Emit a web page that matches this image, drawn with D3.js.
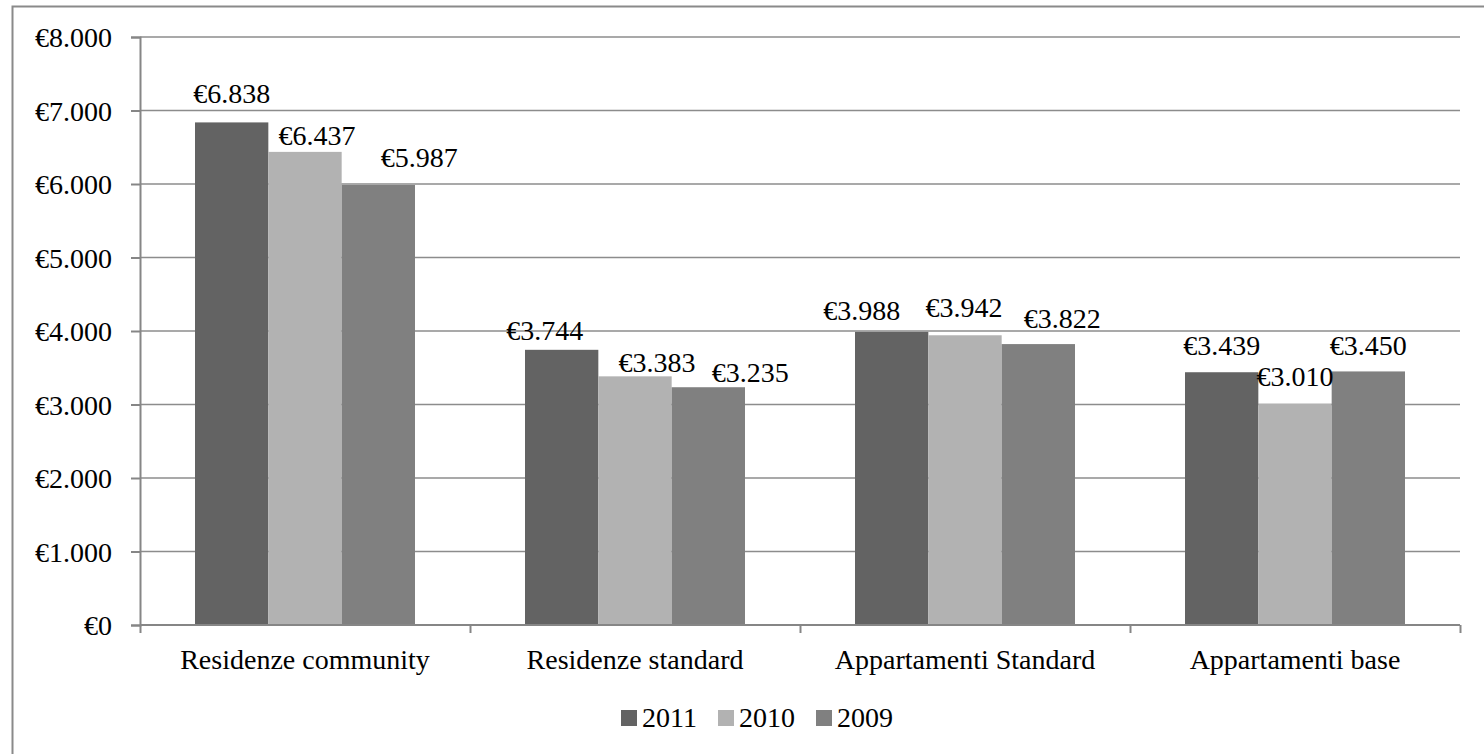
<!DOCTYPE html>
<html>
<head>
<meta charset="utf-8">
<script src="https://cdn.jsdelivr.net/npm/d3@7"></script>
<style>
  html, body { margin: 0; padding: 0; background: #fff; }
  svg { display: block; font-family: "Liberation Serif", "Times New Roman", serif; }
</style>
</head>
<body>
<svg id="chart" width="1484" height="754"></svg>
<script>
// Costo medio annuo per tipologia di alloggio
const categories = ["Residenze community", "Residenze standard", "Appartamenti Standard", "Appartamenti base"];
const seriesNames = ["2011", "2010", "2009"];
const values2011 = [6838, 3744, 3988, 3439];
const values2010 = [6437, 3383, 3942, 3010];
const values2009 = [5987, 3235, 3822, 3450];
const yTicks = [0, 1000, 2000, 3000, 4000, 5000, 6000, 7000, 8000];

const seriesValues = [values2011, values2010, values2009];
const colors = ["#636363", "#b2b2b2", "#808080"];

// label nudges [dx, dy] in px so neighbouring value labels don't collide
const labelNudge = [
  [[0, -1], [12, 11], [41, 0]],
  [[-17, 8], [22, 14], [42, 13]],
  [[-30, 6], [-1, 0], [24, 2]],
  [[0, 1], [0, 0], [0, 2]]
];

const svg = d3.select("#chart");
const fontSize = 28;
const plot = { left: 140, right: 1460, top: 37, bottom: 625 };

// outer frame (only the left and top edges fall inside the viewport)
svg.append("rect")
  .attr("x", 12.5).attr("y", 6.5)
  .attr("width", 1500).attr("height", 800)
  .attr("fill", "none").attr("stroke", "#8a8a8a").attr("stroke-width", 2);

const x0 = d3.scaleBand().domain(categories).range([plot.left, plot.right]).padding(0);
const x1 = d3.scaleBand().domain(seriesNames)
  .range([x0.bandwidth() / 6, x0.bandwidth() * 5 / 6]).padding(0);
const y = d3.scaleLinear().domain([0, 8000]).range([plot.bottom, plot.top]);

const euro = v => "€" + d3.format(",")(v).replace(/,/g, ".");

// horizontal gridlines
svg.append("g").selectAll("line").data(yTicks.filter(t => t > 0)).join("line")
  .attr("x1", plot.left).attr("x2", plot.right)
  .attr("y1", d => y(d)).attr("y2", d => y(d))
  .attr("stroke", "#8c8c8c").attr("stroke-width", 1.5);

// y axis
const yAxis = d3.axisLeft(y).tickValues(yTicks).tickSize(9).tickPadding(19).tickFormat(euro);
const gy = svg.append("g").attr("transform", `translate(${plot.left},0)`).call(yAxis);
gy.select(".domain").attr("stroke", "#868686").attr("stroke-width", 2);
gy.selectAll(".tick line").attr("stroke", "#868686").attr("stroke-width", 2);
gy.selectAll(".tick text")
  .attr("font-size", fontSize).attr("font-family", "Liberation Serif, Times New Roman, serif")
  .attr("fill", "#000").attr("dy", "0.34em");

// bars
const groups = svg.append("g").selectAll("g").data(categories).join("g")
  .attr("transform", d => `translate(${x0(d)},0)`);

groups.selectAll("rect")
  .data((c, ci) => seriesNames.map((s, si) => ({ s, si, ci, v: seriesValues[si][ci] })))
  .join("rect")
  .attr("x", d => x1(d.s)).attr("width", x1.bandwidth())
  .attr("y", d => y(d.v)).attr("height", d => y(0) - y(d.v))
  .attr("fill", d => colors[d.si]);

// x axis
const xAxis = d3.axisBottom(d3.scaleLinear().domain([0, 4]).range([plot.left, plot.right]))
  .tickValues([0, 1, 2, 3, 4]).tickSize(8).tickFormat("");
const gx = svg.append("g").attr("transform", `translate(0,${plot.bottom})`).call(xAxis);
gx.select(".domain").attr("stroke", "#868686").attr("stroke-width", 2)
  .attr("d", `M${plot.left},0H${plot.right}`);
gx.selectAll(".tick line").attr("stroke", "#868686").attr("stroke-width", 2);

// category labels
svg.append("g").selectAll("text").data(categories).join("text")
  .attr("x", d => x0(d) + x0.bandwidth() / 2).attr("y", 669)
  .attr("text-anchor", "middle").attr("font-size", fontSize).attr("fill", "#000")
  .text(d => d);

// value labels
groups.selectAll("text.val")
  .data((c, ci) => seriesNames.map((s, si) => ({ s, si, ci, v: seriesValues[si][ci] })))
  .join("text").attr("class", "val")
  .attr("x", d => x1(d.s) + x1.bandwidth() / 2 + labelNudge[d.ci][d.si][0])
  .attr("y", d => y(d.v) - 18 + labelNudge[d.ci][d.si][1])
  .attr("text-anchor", "middle").attr("font-size", fontSize).attr("fill", "#000")
  .text(d => euro(d.v));

// legend
const legendX = [621, 718, 816];
const legend = svg.append("g").selectAll("g").data(seriesNames).join("g")
  .attr("transform", (d, i) => `translate(${legendX[i]},710)`);
legend.append("rect").attr("width", 16).attr("height", 16).attr("fill", (d, i) => colors[i]);
legend.append("text").attr("x", 21).attr("y", 17)
  .attr("font-size", fontSize).attr("fill", "#000").text(d => d);
</script>
</body>
</html>
